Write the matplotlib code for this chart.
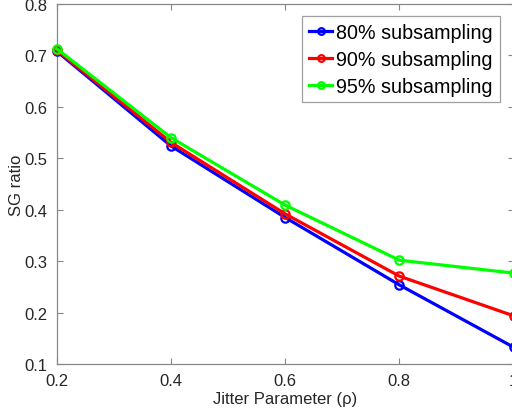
import matplotlib
matplotlib.use("Agg")
import matplotlib.pyplot as plt

plt.rcParams["font.family"] = ["Liberation Sans", "DejaVu Sans"]

jitter = [0.2, 0.4, 0.6, 0.8, 1.0]
sg_80 = [0.708, 0.524, 0.385, 0.254, 0.133]
sg_90 = [0.710, 0.531, 0.392, 0.271, 0.194]
sg_95 = [0.713, 0.540, 0.409, 0.302, 0.277]
labels = ["80% subsampling", "90% subsampling", "95% subsampling"]
colors = ["#0000ff", "#ff0000", "#00ff00"]

fig = plt.figure(figsize=(5.12, 4.14), dpi=100)
ax = fig.add_axes([0.111, 0.118, 0.892, 0.870])

for ys, lab, c in zip([sg_80, sg_90, sg_95], labels, colors):
    ax.plot(jitter, ys, color=c, lw=2.3, marker="o", ms=6, mfc="none",
            mew=1.6, label=lab, clip_on=False, zorder=3)

ax.set_xlim(0.2, 1.0)
ax.set_ylim(0.1, 0.8)
ax.set_xticks([0.2, 0.4, 0.6, 0.8, 1.0])
ax.set_xticklabels(["0.2", "0.4", "0.6", "0.8", "1"])
ax.set_yticks([0.1, 0.2, 0.3, 0.4, 0.5, 0.6, 0.7, 0.8])
ax.tick_params(direction="in", length=4, width=0.8, color="#888888",
               labelcolor="#262626", labelsize=12, top=True, right=True,
               pad=6.5)
for s in ax.spines.values():
    s.set_color("#888888")
    s.set_linewidth(0.9)

ax.set_xlabel("Jitter Parameter (\u03c1)", fontsize=12, color="#262626", labelpad=2)
ax.set_ylabel("SG ratio", fontsize=12, color="#262626", labelpad=0.5)

leg = ax.legend(loc="upper right", bbox_to_anchor=(0.970, 0.967),
                fontsize=14.2, frameon=True, fancybox=False,
                edgecolor="#888888", handlelength=1.2, handletextpad=0.2,
                borderpad=0.35, labelspacing=0.4, borderaxespad=0,
                markerscale=0.8)
leg.get_frame().set_linewidth(0.9)

fig.savefig("out.png", dpi=100)
